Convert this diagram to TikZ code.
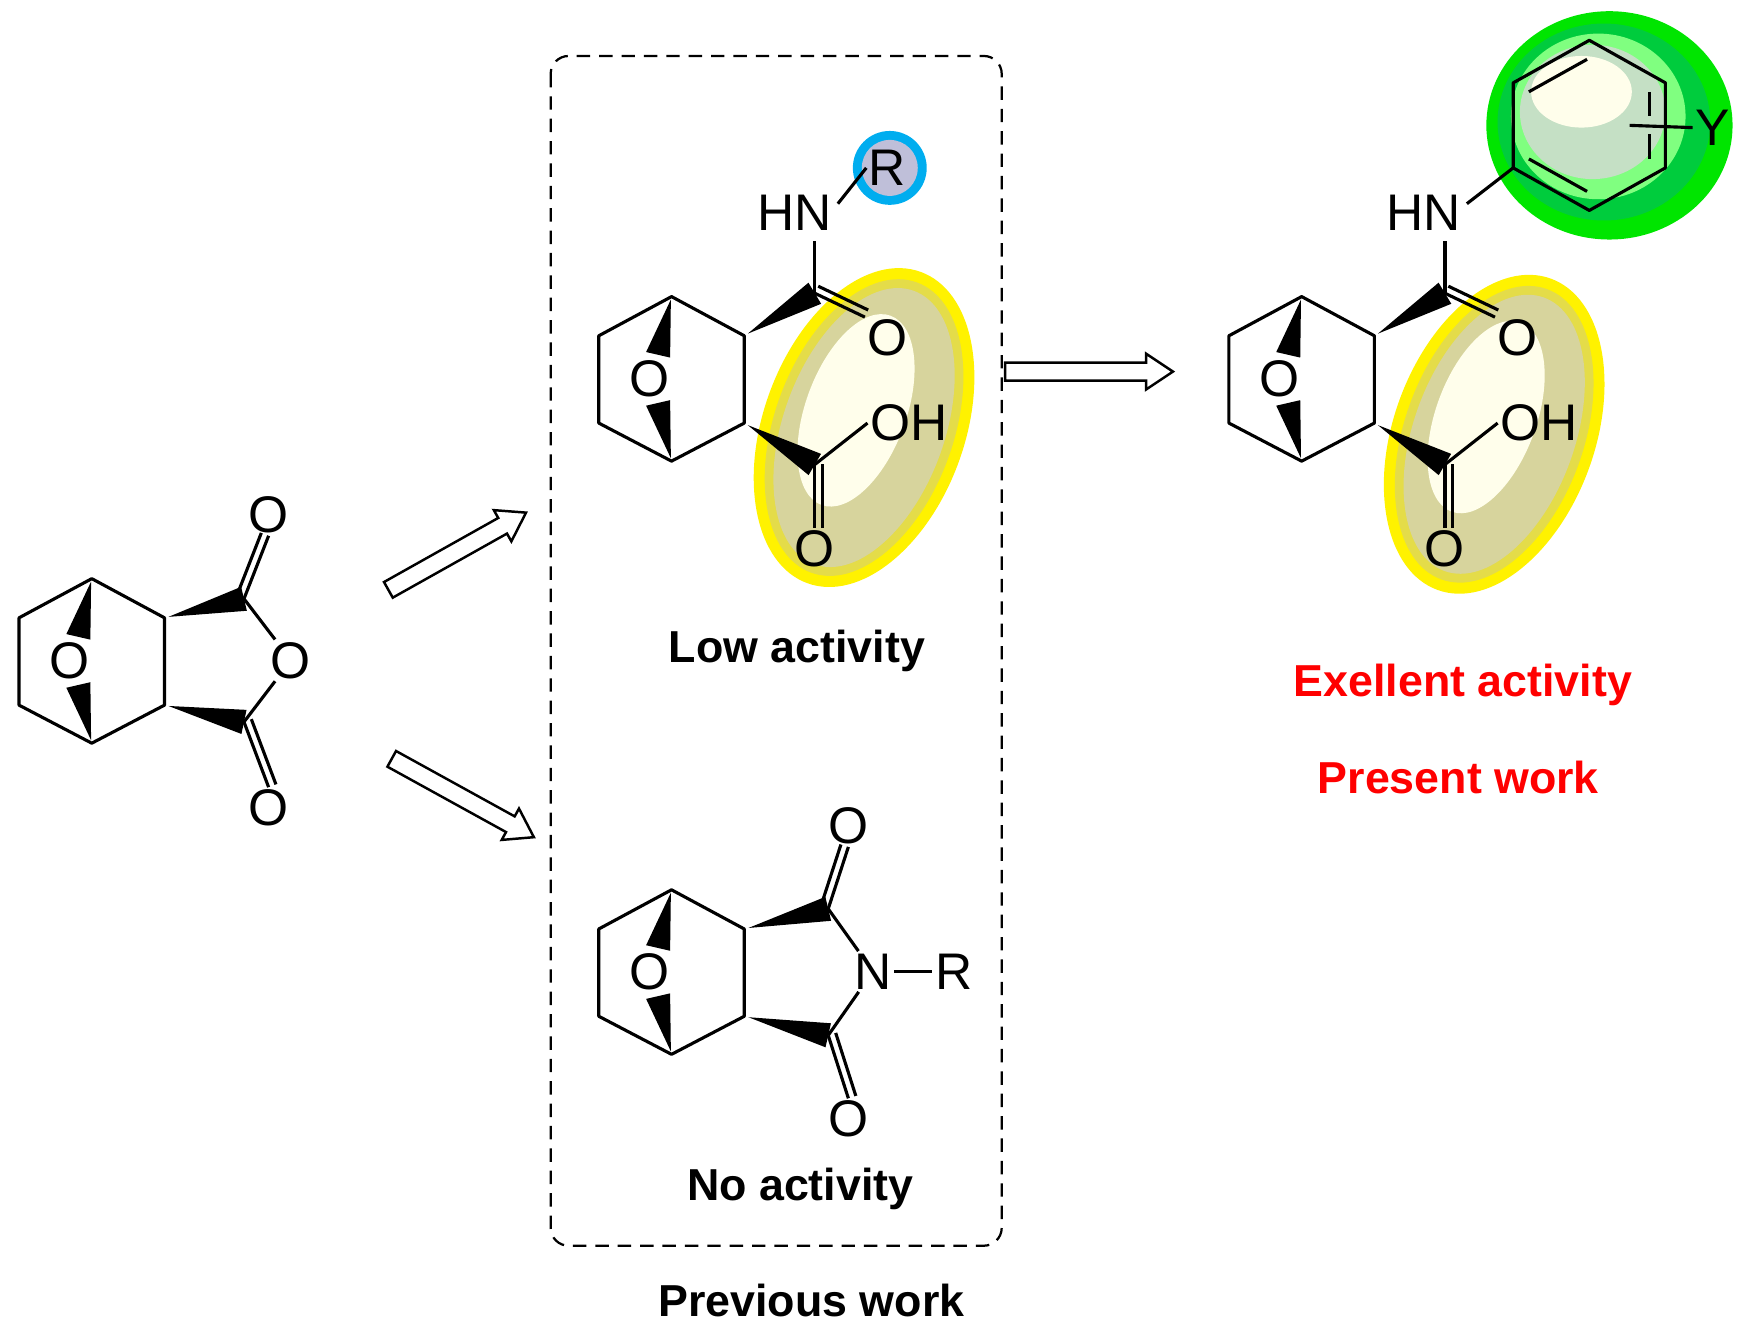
\documentclass[tikz,border=0pt]{standalone}
\usepackage{fontspec}
\setmainfont{Liberation Sans}
\usetikzlibrary{calc,arrows.meta}
\newcommand\wdg[3][5.5pt]{\fill ($(#2)!0.05!(#3)$) -- ($(#3)!#1!90:(#2)$) -- ($(#3)!#1!-90:(#2)$) -- cycle;}
\newcommand\dbl[3]{\draw[bond] (#1) -- (#2); \draw[bond,shorten >=#3,shorten <=#3] ($(#1)!3.5pt!90:(#2)$) -- ($(#2)!3.5pt!-90:(#1)$);}
\newcommand\hollow[2]{%
 \coordinate (hh) at ($(#2)!12pt!(#1)$);
 \draw[line width=1.1pt,fill=white,line join=miter] ($(#1)!4pt!90:(#2)$) -- ($(hh)!4pt!-90:(#1)$) -- ($(hh)!8pt!-90:(#1)$) -- (#2) -- ($(hh)!8pt!90:(#1)$) -- ($(hh)!4pt!90:(#1)$) -- ($(#1)!4pt!-90:(#2)$) -- cycle;}
\newcommand\bicyc[3]{%
 \coordinate (#1T) at (#2,#3);
 \coordinate (#1L1) at (#2-65,#3+35);
 \coordinate (#1L2) at (#2-65,#3+113);
 \coordinate (#1B) at (#2,#3+147);
 \coordinate (#1C1) at (#2+65,#3+35);
 \coordinate (#1C2) at (#2+65,#3+113);
 \node[atom] (#1O) at (#2-20,#3+73) {O};
 \draw[bond,line join=round] (#1T) -- (#1L1) -- (#1L2) -- (#1B) -- (#1C2) -- (#1C1) -- cycle;
 \coordinate (#1Ot) at (#2-12,#3+52);
 \coordinate (#1Ob) at (#2-12,#3+95);
 \wdg{#1T}{#1Ot}
 \wdg{#1B}{#1Ob}
}
\newcommand\yell[2]{%
\begin{scope}[shift={(#1,#2)},rotate=-20]
 \fill[yellow] (0,0) ellipse (90 and 148);
 \fill[yellow!85!black!80!white] (0,0) ellipse (80 and 138);
 \fill[yellow!60!black!45!white] (0,0) ellipse (72 and 130);
 \fill[white!92!yellow] (-12,-12) ellipse (45 and 90);
\end{scope}}
\tikzset{bond/.style={line width=1.4pt},
 atom/.style={font=\fontsize{23}{23}\selectfont,inner sep=1pt},
 lbl/.style={font=\fontsize{20}{20}\selectfont\bfseries}}
\begin{document}
\begin{tikzpicture}[x=0.5pt,y=-0.5pt]
\useasboundingbox (0,0) rectangle (1560,1185);
% highlight ellipses
\yell{772}{382}
\yell{1335}{388}
\begin{scope}[shift={(1438,112)}]
 \fill[green!90!black] (0,0) ellipse (110 and 102);
 \fill[green!70!cyan!80!black] (-5,-3) ellipse (95 and 88);
 \fill[green!50!white] (-10,-8) ellipse (78 and 74);
 \fill[green!30!gray!35!white] (-15,-12) ellipse (65 and 60);
 \fill[white!92!yellow] (-25,-30) ellipse (45 and 32);
\end{scope}
\fill[cyan] (795,150) circle (33);
\fill[blue!25!gray!40!white] (795,150) circle (25);
% dashed box
\draw[line width=1pt,dash pattern=on 6pt off 4pt,rounded corners=8pt] (492,50) rectangle (895,1113);
% left anhydride
\bicyc{a}{82}{517}
\coordinate (aK1) at (218,535);
\coordinate (aK2) at (218,645);
\node[atom] (aOr) at (260,590) {O};
\node[atom] (aO1) at (240,460) {O};
\node[atom] (aO2) at (240,722) {O};
\wdg{aC1}{aK1}\wdg{aC2}{aK2}
\draw[bond] (aK1) -- (aOr); \draw[bond] (aK2) -- (aOr);
\dbl{aK1}{aO1.south}{0pt}
\dbl{aK2}{aO2.north}{0pt}
% middle top
\bicyc{m}{600}{265}
\coordinate (mK1) at (728,262);
\coordinate (mK2) at (728,415);
\node[atom] (mHN) at (710,190) {HN};
\node[atom] (mR) at (793,150) {R};
\node[atom] (mO1) at (793,302) {O};
\node[atom] (mOH) at (812,378) {OH};
\node[atom] (mO2) at (728,490) {O};
\wdg{mC1}{mK1}\wdg{mC2}{mK2}
\draw[bond] (mK1) -- (728,215);
\draw[bond] (mHN.east) ++(3,-8) -- (mR.west);
\dbl{mK1}{mO1.north west}{0pt}
\draw[bond] (mK2) -- (mOH.west);
\dbl{mK2}{mO2.north}{0pt}
\node[lbl] (low) at (712,582) {Low activity};
% middle bottom imide
\bicyc{i}{600}{795}
\coordinate (iK1) at (740,812);
\coordinate (iK2) at (740,925);
\node[atom] (iN) at (780,868) {N};
\node[atom] (iR) at (852,868) {R};
\node[atom] (iO1) at (758,738) {O};
\node[atom] (iO2) at (758,1000) {O};
\wdg{iC1}{iK1}\wdg{iC2}{iK2}
\draw[bond] (iK1) -- (iN); \draw[bond] (iK2) -- (iN);
\draw[bond] (iN) -- (iR);
\dbl{iK1}{iO1.south}{0pt}
\dbl{iK2}{iO2.north}{0pt}
\node[lbl] (no) at (715,1062) {No activity};
\node[lbl] (prev) at (725,1162) {Previous work};
% right
\bicyc{r}{1163}{265}
\coordinate (rK1) at (1291,262);
\coordinate (rK2) at (1291,415);
\node[atom] (rHN) at (1272,190) {HN};
\node[atom] (rO1) at (1356,302) {O};
\node[atom] (rOH) at (1375,378) {OH};
\node[atom] (rO2) at (1291,490) {O};
\wdg{rC1}{rK1}\wdg{rC2}{rK2}
\draw[bond] (rK1) -- (1291,215);
\dbl{rK1}{rO1.north west}{0pt}
\draw[bond] (rK2) -- (rOH.west);
\dbl{rK2}{rO2.north}{0pt}
\coordinate (h1) at (1420,36);
\coordinate (h2) at (1488,74);
\coordinate (h3) at (1488,150);
\coordinate (h4) at (1420,188);
\coordinate (h5) at (1352,150);
\coordinate (h6) at (1352,74);
\draw[bond,line join=round] (h1)--(h2)--(h3)--(h4)--(h5)--(h6)--cycle;
\draw[bond] (1366,82) -- (1418,53);
\draw[bond] (1366,142) -- (1418,171);
\draw[bond] (1474,82) -- (1474,104); \draw[bond] (1474,120) -- (1474,142);
\node[atom] (rY) at (1530,114) {Y};
\draw[bond] (1456,112) -- (rY.west);
\draw[bond] (rHN.east) ++(3,-8) -- (h5);
\node[lbl,red] (exc) at (1307,612) {Exellent activity};
\node[lbl,red] (pres) at (1303,695) {Present work};
% arrows
\coordinate (s1) at (347,527); \coordinate (e1) at (470,458);
\coordinate (s2) at (350,678); \coordinate (e2) at (477,748);
\coordinate (s3) at (898,332); \coordinate (e3) at (1048,332);
\hollow{s1}{e1}
\hollow{s2}{e2}
\hollow{s3}{e3}
\end{tikzpicture}
\end{document}
